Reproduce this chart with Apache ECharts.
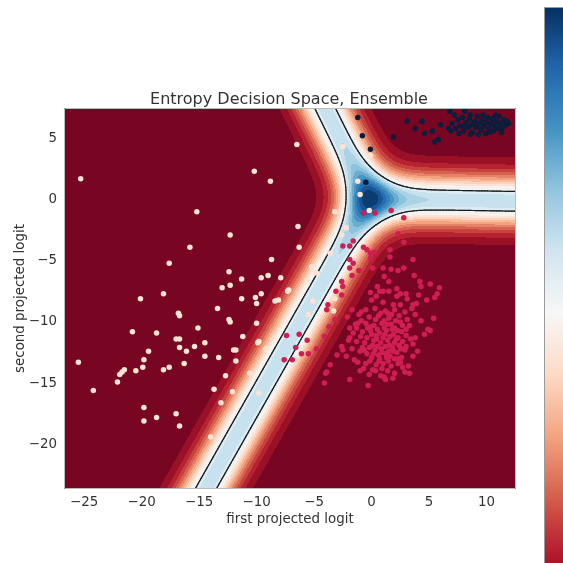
<!DOCTYPE html>
<html>
<head>
<meta charset="utf-8">
<script src="https://cdn.jsdelivr.net/npm/echarts@6/dist/echarts.min.js"></script>
<style>
  html, body { margin: 0; padding: 0; background: #ffffff; }
  #chart { width: 563px; height: 563px; }
</style>
</head>
<body>
<div id="chart"></div>
<script>
// ---- axes ----
const xRange = [-26.75, 12.56];
const yRange = [-23.65, 7.475];
const xTicks = [-25, -20, -15, -10, -5, 0, 5, 10];
const yTicks = [-20, -15, -10, -5, 0, 5];

// ---- entropy field: filled levels and the outlined level ----
const entropyLevels = [0, 0.05, 0.1, 0.15, 0.2, 0.25, 0.3, 0.35, 0.4, 0.45, 0.5, 0.55,
  0.6, 0.65, 0.7, 0.75, 0.8, 0.85, 0.9, 0.95, 1.0, 1.05, 1.1];
const outlineLevel = 0.6;

// ---- 3-class linear model on the projected logit plane (classes: left, lower-right, upper-right) ----
const classWeights = [[-0.8862, 0.0296], [0.4313, -0.7642], [0.4549, 0.7346]];
const classBias = [-0.1344, 0.1030, 0.0315];
// each ensemble member leans towards one class by this much
const memberBoost = 1.5;

// RdBu colour ramp
const rdbuStops = ['#67001f', '#b2182b', '#d6604d', '#f4a582', '#fddbc7', '#f7f7f7',
  '#d1e5f0', '#92c5de', '#4393c3', '#2166ac', '#053061'];

// ---- samples, per true class ----
const pointsLeft = [
  [-25.3, 1.7], [-10.2, 2.3], [-8.8, 1.5], [-15.2, -1.0], [-6.4, -2.2], [-12.3, -2.9], [-15.8, -3.9],
  [-6.3, -3.9], [-17.6, -5.2], [-8.7, -4.9], [-12.4, -5.9], [-11.3, -6.5], [-9.6, -6.4], [-9.0, -6.2],
  [-7.9, -6.4], [-13.0, -7.2], [-12.3, -7.0], [-7.3, -7.5], [-7.2, -7.4], [-20.1, -8.1], [-18.1, -7.7],
  [-11.3, -8.1], [-10.1, -8.0], [-9.6, -7.7], [-10.0, -8.5], [-8.4, -8.3], [-8.1, -8.2], [-13.4, -8.9],
  [-16.8, -9.3], [-16.7, -9.5], [-12.4, -9.8], [-12.3, -10.0], [-15.1, -10.5], [-10.0, -10.1],
  [-20.8, -10.8], [-18.7, -10.9], [-11.2, -11.2], [-17.0, -11.4], [-16.7, -11.4], [-14.5, -11.7],
  [-9.9, -11.7], [-9.8, -11.6], [-16.7, -12.1], [-15.4, -12.0], [-16.1, -12.4], [-12.0, -12.3],
  [-11.8, -12.3], [-9.2, -12.2], [-19.4, -12.4], [-14.5, -12.8], [-13.3, -12.9], [-11.8, -13.2],
  [-19.8, -13.1], [-16.3, -13.4], [-25.5, -13.3], [-17.6, -13.7], [-19.9, -13.7], [-18.1, -13.9],
  [-20.5, -14.0], [-21.5, -13.9], [-21.7, -14.1], [-21.9, -14.3], [-22.1, -14.9], [-12.7, -14.4],
  [-10.6, -14.2], [-24.2, -15.6], [-13.7, -15.5], [-12.1, -15.7], [-9.8, -15.8], [-13.1, -16.6],
  [-19.8, -17.0], [-17.0, -17.5], [-18.7, -17.8], [-19.8, -18.1], [-16.7, -18.5], [-14.0, -19.4],
  [-6.5, 4.5], [-2.5, 4.3], [-0.1, 3.6], [-1.2, 1.5], [-1.0, 0.4], [-0.2, -0.9], [-3.2, -1.0],
  [-2.2, -2.3], [-2.6, -2.9], [-5.2, -5.5], [-4.8, -6.0], [-3.6, -4.4], [-5.6, -6.6], [-3.2, -8.1],
  [-5.1, -8.3], [-5.5, -9.4], [-3.3, -9.1]
];

const pointsLowerRight = [
  [-0.7, -1.1], [0.3, -1.1], [1.7, -0.9], [2.8, -1.5],
  [-2.5, -3.8], [-1.9, -3.8], [-1.6, -3.4], [-0.7, -3.9], [2.3, -2.8], [2.8, -3.5],
  [-0.4, -4.1], [-0.1, -4.4], [-0.1, -4.8], [0.2, -4.3], [0.1, -5.6], [1.6, -4.1], [1.6, -4.7],
  [-1.9, -4.9], [-1.6, -5.2], [-1.9, -5.6], [-1.1, -5.8], [-1.7, -6.2], [-2.6, -6.7], [-2.5, -7.1],
  [-3.1, -7.5], [-2.6, -7.8], [-3.8, -8.6], [-3.9, -9.0], [-3.2, -9.8], [-3.7, -10.4], [-4.1, -11.2],
  [-4.8, -12.2], [-5.6, -11.5], [-5.5, -12.6], [-6.1, -12.6], [-7.4, -11.1], [-6.3, -11.0],
  [-6.6, -12.1], [-7.6, -13.1], [-6.9, -13.1],
  [1.0, -5.6], [1.7, -5.7], [2.3, -5.8], [2.8, -5.6], [3.6, -4.9], [1.1, -6.3], [1.5, -6.7],
  [3.7, -6.2], [4.2, -6.7], [4.3, -7.1], [5.1, -6.9], [5.9, -7.2], [5.7, -7.7], [5.5, -8.0],
  [0.5, -7.1], [0.7, -7.5], [-0.1, -7.6], [0.4, -7.9], [1.0, -7.5], [1.5, -7.5], [2.2, -7.3],
  [2.5, -7.7], [3.0, -7.7], [3.1, -8.1], [2.2, -7.9], [4.1, -7.8], [3.9, -8.5], [4.8, -8.2],
  [0.0, -8.2], [1.0, -8.4], [1.9, -8.6], [2.5, -8.6], [3.6, -8.6],
  [5.4, -9.7], [4.9, -10.6], [5.1, -10.7], [3.6, -11.8], [3.5, -8.9], [3.8, -9.4], [2.5, -13.3],
  [2.9, -14.1], [1.2, -14.7], [-0.3, -15.2], [-1.9, -14.7], [-4.1, -15.0], [-3.9, -14.1],
  [-3.6, -13.5], [-3.0, -12.7], [-2.5, -12.3], [-2.6, -12.0], [-2.0, -11.5], [-1.9, -10.5],
  [-2.1, -9.6], [-1.7, -9.0], [-0.9, -9.2], [-1.2, -10.1], [-4.0, -14.2],
  [-0.5, -9.0], [0.3, -8.9], [1.2, -9.1], [2.0, -9.0], [2.9, -9.2], [0.8, -9.3], [-1.1, -9.4],
  [-0.2, -9.6], [0.6, -9.5], [1.5, -9.7], [2.4, -9.5], [3.1, -9.8], [-0.9, -9.9], [1.1, -9.9],
  [-1.4, -10.2], [-0.5, -10.1], [0.2, -10.3], [0.9, -10.1], [1.7, -10.2], [2.5, -10.0], [3.3, -10.3],
  [2.0, -10.5], [0.5, -10.6], [-0.1, -10.7],
  [-1.6, -10.9], [-0.8, -10.8], [0.0, -11.0], [0.7, -10.9], [1.3, -10.7], [1.9, -11.0], [2.6, -10.8],
  [3.0, -11.1], [-0.4, -11.3], [1.0, -11.3], [2.3, -11.3],
  [-1.3, -11.6], [-0.6, -11.7], [0.2, -11.5], [0.8, -11.7], [1.4, -11.5], [2.0, -11.7], [2.7, -11.6],
  [3.4, -11.4], [0.5, -12.0], [1.2, -12.0], [1.8, -12.1], [-0.2, -12.1],
  [-1.0, -12.4], [-0.4, -12.6], [0.3, -12.3], [0.9, -12.5], [1.5, -12.4], [2.2, -12.5], [2.9, -12.3],
  [0.0, -12.9], [0.7, -13.0], [1.3, -12.9], [2.0, -13.0], [2.6, -12.9],
  [-1.2, -13.3], [-0.5, -13.4], [0.4, -13.5], [1.0, -13.4], [1.7, -13.6], [2.3, -13.4], [3.2, -13.6],
  [0.1, -13.9], [1.4, -14.0], [2.0, -14.2], [-0.2, -14.3], [0.8, -14.4],
  [0.4, -11.1], [1.6, -11.2], [1.1, -10.5], [0.1, -11.9], [1.9, -12.4], [0.6, -12.7], [1.6, -12.8],
  [-0.8, -12.1], [2.4, -11.9], [-0.1, -10.4], [1.4, -9.3], [2.1, -9.9], [0.9, -13.8], [1.8, -10.6],
  [-1.7, -12.2], [-1.9, -11.3], [3.0, -12.0], [2.7, -10.3], [-0.7, -13.8], [3.6, -12.8],
  [0.35, -9.8], [1.75, -9.4], [-0.35, -10.5], [1.35, -10.2], [2.25, -10.7], [0.45, -11.4],
  [1.15, -11.0], [2.15, -11.4], [-0.95, -11.2], [0.85, -12.2], [1.55, -11.9], [-0.65, -12.3],
  [2.55, -12.2], [0.15, -12.6], [1.25, -12.6], [2.35, -13.0], [-0.15, -13.2], [0.65, -13.2],
  [1.45, -13.2], [2.7, -13.7], [0.35, -14.0], [1.1, -14.5], [-1.0, -14.0], [1.85, -14.6],
  [3.3, -14.2], [-1.3, -10.5], [3.0, -10.6], [3.8, -11.3], [-2.2, -12.8], [-1.5, -13.1],
  [4.3, -9.9], [4.6, -11.0], [4.0, -12.4]
];

const pointsUpperRight = [
  [-1.2, 6.7], [-0.8, 5.2], [-0.1, 4.1], [-0.5, 1.4], [1.9, 5.1], [3.1, 6.4], [3.8, 5.8], [4.4, 6.4],
  [4.6, 5.4], [5.3, 5.6], [5.5, 4.7], [5.8, 4.9], [6.0, 6.1], [6.8, 7.2], [8.1, 7.2], [8.6, 6.9],
  [6.7, 5.8],
  [7.0, 6.2], [7.3, 5.8], [7.5, 6.5], [7.7, 6.0], [7.9, 6.7], [8.0, 5.6], [8.2, 6.3], [8.4, 5.9],
  [8.5, 6.6], [8.7, 6.1], [8.8, 5.5], [9.0, 6.4], [9.1, 5.9], [9.2, 6.8], [9.4, 6.2], [9.5, 5.7],
  [9.6, 6.5], [9.8, 6.0], [9.9, 5.4], [10.0, 6.3], [10.1, 6.7], [10.2, 5.8], [10.4, 6.2], [10.5, 6.6],
  [10.6, 5.6], [10.7, 6.0], [10.9, 6.4], [11.0, 5.8], [11.1, 6.8], [11.2, 6.2], [11.4, 5.9],
  [11.5, 6.5], [11.7, 6.1], [8.1, 6.0], [8.9, 6.3], [9.7, 6.9], [10.3, 5.5], [7.6, 5.4], [11.3, 5.5],
  [9.3, 5.3], [10.8, 6.9], [8.6, 5.3], [7.2, 6.9], [6.9, 5.6], [11.8, 6.4], [11.9, 6.2]
];

// ---------------------------------------------------------------------------
function hexToRgb(h) {
  const n = parseInt(h.slice(1), 16);
  return [(n >> 16) & 255, (n >> 8) & 255, n & 255];
}
function rdbu(t) {
  t = Math.max(0, Math.min(1, t));
  const n = rdbuStops.length - 1;
  const f = t * n;
  const i = Math.min(n - 1, Math.floor(f));
  const u = f - i;
  const a = hexToRgb(rdbuStops[i]), b = hexToRgb(rdbuStops[i + 1]);
  const c = a.map((v, k) => Math.round(v + (b[k] - v) * u));
  return 'rgb(' + c.join(',') + ')';
}

// entropy of the averaged class probabilities of the ensemble
function ensembleEntropy(x, y) {
  const base = classWeights.map((w, k) => w[0] * x + w[1] * y + classBias[k]);
  const mean = [0, 0, 0];
  for (let m = 0; m < base.length; m++) {
    const l = base.map((v, k) => v + (k === m ? memberBoost : 0));
    const mx = Math.max(l[0], l[1], l[2]);
    const e = l.map(v => Math.exp(v - mx));
    const s = e[0] + e[1] + e[2];
    for (let k = 0; k < 3; k++) mean[k] += e[k] / s / base.length;
  }
  let h = 0;
  for (let k = 0; k < 3; k++) if (mean[k] > 0) h -= mean[k] * Math.log(mean[k]);
  return h;
}

const vMin = entropyLevels[0], vMax = entropyLevels[entropyLevels.length - 1];
const bandColors = entropyLevels.slice(0, -1).map((lo, i) =>
  rdbu(((lo + entropyLevels[i + 1]) / 2 - vMin) / (vMax - vMin)));

function bandIndex(h) {
  for (let i = entropyLevels.length - 2; i >= 0; i--) if (h >= entropyLevels[i]) return i;
  return 0;
}

// filled bands: one run per row of equal band index
const cols = 452, rows = 381;
const dx = (xRange[1] - xRange[0]) / cols, dy = (yRange[1] - yRange[0]) / rows;
const bandRuns = [];
for (let r = 0; r < rows; r++) {
  const yTop = yRange[1] - r * dy, yBot = yTop - dy, yc = yTop - dy / 2;
  let start = 0;
  let cur = bandIndex(ensembleEntropy(xRange[0] + 0.5 * dx, yc));
  for (let c = 1; c <= cols; c++) {
    const b = c < cols ? bandIndex(ensembleEntropy(xRange[0] + (c + 0.5) * dx, yc)) : -1;
    if (b !== cur) {
      bandRuns.push([xRange[0] + start * dx, xRange[0] + c * dx, yTop, yBot, cur]);
      start = c; cur = b;
    }
  }
}

// outline of the chosen level (marching squares)
const nx = 300, ny = 254;
const gx = (xRange[1] - xRange[0]) / nx, gy = (yRange[1] - yRange[0]) / ny;
const field = [];
for (let j = 0; j <= ny; j++) {
  const row = [];
  for (let i = 0; i <= nx; i++) row.push(ensembleEntropy(xRange[0] + i * gx, yRange[0] + j * gy));
  field.push(row);
}
const outlineSegments = [];
for (let j = 0; j < ny; j++) {
  for (let i = 0; i < nx; i++) {
    const v = [field[j][i], field[j][i + 1], field[j + 1][i + 1], field[j + 1][i]];
    const x0 = xRange[0] + i * gx, x1 = x0 + gx, y0 = yRange[0] + j * gy, y1 = y0 + gy;
    const px = [x0, x1, x1, x0], py = [y0, y0, y1, y1];
    const pts = [];
    for (let e = 0; e < 4; e++) {
      const a = e, b = (e + 1) % 4;
      if ((v[a] - outlineLevel) * (v[b] - outlineLevel) < 0) {
        const t = (outlineLevel - v[a]) / (v[b] - v[a]);
        pts.push([px[a] + t * (px[b] - px[a]), py[a] + t * (py[b] - py[a])]);
      }
    }
    if (pts.length >= 2) outlineSegments.push([pts[0][0], pts[0][1], pts[1][0], pts[1][1]]);
    if (pts.length === 4) outlineSegments.push([pts[2][0], pts[2][1], pts[3][0], pts[3][1]]);
  }
}

const minusFmt = v => (v < 0 ? '\u2212' + (-v) : String(v));
const font = 'DejaVu Sans';
const textColor = '#333333';

const chart = echarts.init(document.getElementById('chart'), null, { renderer: 'canvas' });

const colorbarStops = rdbuStops.map((c, i) => ({ offset: 1 - i / (rdbuStops.length - 1), color: c }));

chart.setOption({
  animation: false,
  backgroundColor: '#ffffff',
  textStyle: { fontFamily: font },
  title: {
    text: 'Entropy Decision Space, Ensemble',
    left: 284, top: 87, textAlign: 'center',
    textStyle: { fontSize: 16, fontWeight: 'normal', color: textColor, fontFamily: font }
  },
  grid: { left: 64, top: 108, width: 452, height: 381, containLabel: false, outerBoundsMode: 'none' },
  xAxis: {
    type: 'value', min: xRange[0], max: xRange[1],
    name: 'first projected logit', nameLocation: 'middle', nameGap: 24, nameMoveOverlap: false,
    nameTextStyle: { fontSize: 13.4, color: textColor, fontFamily: font },
    axisLine: { show: false },
    splitLine: { show: false },
    axisTick: { show: true, customValues: xTicks, length: 4, lineStyle: { color: '#333', width: 1 } },
    axisLabel: { customValues: xTicks, formatter: minusFmt, fontSize: 13.4, color: textColor, margin: 7, fontFamily: font }
  },
  yAxis: {
    type: 'value', min: yRange[0], max: yRange[1],
    name: 'second projected logit', nameLocation: 'middle', nameGap: 37, nameRotate: 90, nameMoveOverlap: false,
    nameTextStyle: { fontSize: 13.4, color: textColor, fontFamily: font },
    axisLine: { show: false },
    splitLine: { show: false },
    axisTick: { show: true, customValues: yTicks, length: 4, lineStyle: { color: '#333', width: 1 } },
    axisLabel: { customValues: yTicks, formatter: minusFmt, fontSize: 13.4, color: textColor, margin: 7, fontFamily: font }
  },
  graphic: [
    {
      type: 'rect', z: 100, silent: true,
      shape: { x: 64.5, y: 108.5, width: 451, height: 380 },
      style: { fill: 'none', stroke: '#bbbbbb', lineWidth: 1 }
    },
    {
      type: 'rect', z: 100, silent: true,
      shape: { x: 544.5, y: 7.5, width: 30, height: 610 },
      style: { fill: new echarts.graphic.LinearGradient(0, 0, 0, 1, colorbarStops), stroke: '#9a9a9a', lineWidth: 1 }
    }
  ],
  series: [
    {
      type: 'custom', name: 'entropy', coordinateSystem: 'cartesian2d', z: 1, silent: true, clip: true,
      dimensions: ['x0', 'x1', 'yTop', 'yBot', 'band'],
      encode: { x: [0, 1], y: [2, 3] },
      data: bandRuns,
      renderItem: (params, api) => {
        const a = api.coord([api.value(0), api.value(2)]);
        const b = api.coord([api.value(1), api.value(3)]);
        const x = Math.round(a[0]), y = Math.round(a[1]);
        return {
          type: 'rect',
          shape: { x: x, y: y, width: Math.round(b[0]) - x, height: Math.round(b[1]) - y },
          style: { fill: bandColors[api.value(4)] }
        };
      }
    },
    {
      type: 'custom', name: 'outline', coordinateSystem: 'cartesian2d', z: 2, silent: true, clip: true,
      dimensions: ['xa', 'ya', 'xb', 'yb'],
      encode: { x: [0, 2], y: [1, 3] },
      data: outlineSegments,
      renderItem: (params, api) => {
        const a = api.coord([api.value(0), api.value(1)]);
        const b = api.coord([api.value(2), api.value(3)]);
        return {
          type: 'line',
          shape: { x1: a[0], y1: a[1], x2: b[0], y2: b[1] },
          style: { stroke: '#1c1c1c', lineWidth: 1.2, lineCap: 'round' }
        };
      }
    },
    {
      type: 'scatter', name: 'left', z: 3, symbolSize: 5.5, data: pointsLeft,
      itemStyle: { color: '#fbe4d5', opacity: 1 }
    },
    {
      type: 'scatter', name: 'lower right', z: 3, symbolSize: 5.5, data: pointsLowerRight,
      itemStyle: { color: '#cf1f52', opacity: 1 }
    },
    {
      type: 'scatter', name: 'upper right', z: 3, symbolSize: 5.5, data: pointsUpperRight,
      itemStyle: { color: '#0b1d3a', opacity: 1 }
    }
  ]
});
</script>
</body>
</html>
